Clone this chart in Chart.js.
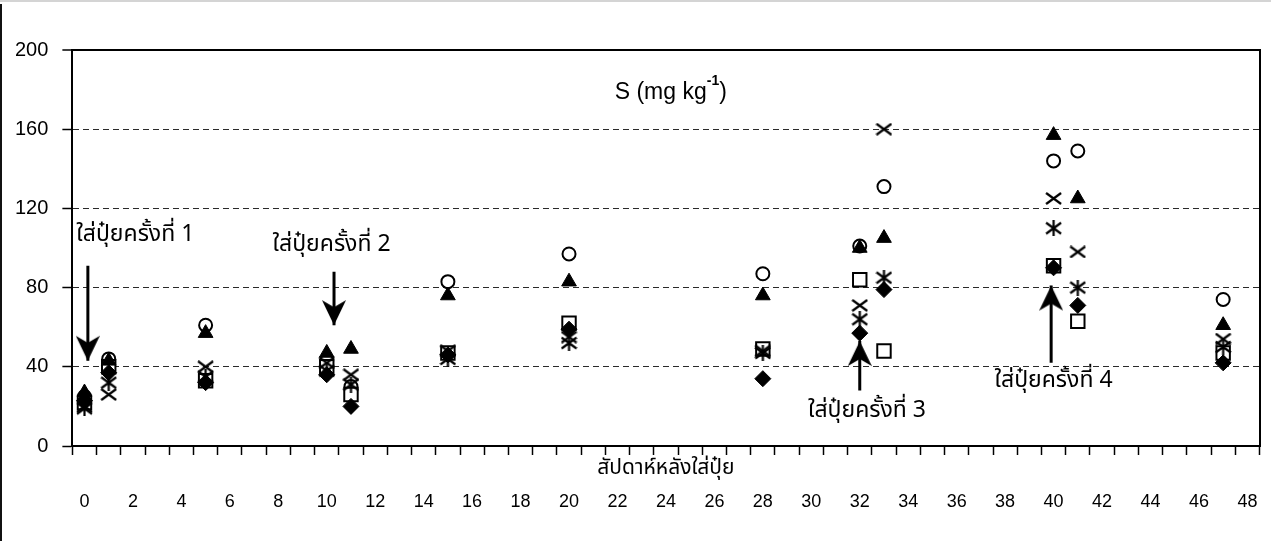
<!DOCTYPE html>
<html>
<head>
<meta charset="utf-8">
<script src="https://cdn.jsdelivr.net/npm/chart.js@4.4.1/dist/chart.umd.min.js"></script>
<style>
  html, body { margin: 0; padding: 0; background: #fff; }
  #wrap { position: relative; width: 1271px; height: 541px; overflow: hidden; }
  #wrap canvas { position: absolute; left: 0; top: 0; }
  #frameTop { position: absolute; left: 0; top: 0; width: 1271px; height: 2px; background: #d4d4d4; }
  #frameLeft { position: absolute; left: 0; top: 4px; width: 2px; height: 537px; background: #111; }
</style>
</head>
<body>
<div id="wrap">
  <canvas id="chart" width="1271" height="541"></canvas>
  <div id="frameTop"></div>
  <div id="frameLeft"></div>
</div>
<script>
// Sampling weeks after fertiliser application
const weeks = [0, 1, 5, 10, 11, 15, 20, 28, 32, 33, 40, 41, 47];

// Sulphur (mg/kg), one array per treatment marker
const circleVals   = [25, 44, 61, 43, 30, 83, 97, 87, 101, 131, 144, 149, 74];
const squareVals   = [22, 40, 33, 40, 26, 47, 62, 49, 84, 48, 91, 63, 47];
const triangleVals = [27, 43, 57, 47, 49, 76, 83, 76, 100, 105, 157, 125, 61];
const diamondVals  = [23, 37, 32, 36, 20, 46, 59, 34, 57, 79, 90, 71, 42];
const crossVals    = [20, 26, 40, 42, 36, 48, 55, 48, 71, 160, 125, 98, 54];
const starVals     = [19, 32, 35, 38, 31, 44, 52, 47, 64, 85, 110, 80, 50];

// Axis ticks
const yTicks = [0, 40, 80, 120, 160, 200];
const xTickLabels = ['0', '2', '4', '6', '8', '10', '12', '14', '16', '18', '20', '22', '24',
                     '26', '28', '30', '32', '34', '36', '38', '40', '42', '44', '46', '48'];

// Fertiliser application notes and their arrows
const fertNotes = ['ใส่ปุ๋ยครั้งที่ 1', 'ใส่ปุ๋ยครั้งที่ 2', 'ใส่ปุ๋ยครั้งที่ 3', 'ใส่ปุ๋ยครั้งที่ 4'];
const noteX = [2.1, 10.2, 32.3, 40.0];
const noteY = [106, 101, 17, 32];
const arrowX = [0.14, 10.3, 32.0, 39.9];
const arrowFrom = [91, 88, 28, 42];
const arrowTo = [43, 61, 53, 81];

const headingWeek = 24.2;
const headingValue = 175.5;

const thaiFont = '"Noto Sans Thai", "Noto Sans Thai UI", Loma, Garuda, Tahoma, "Liberation Sans", sans-serif';
const latinFont = '"Liberation Sans", Arial, sans-serif';

// tick marks sit between the week slots
const tickMarks = [];
for (let v = -0.5; v <= 48.5; v += 1) tickMarks.push(v);

function makeMark(w, h, draw) {
  const c = document.createElement('canvas');
  c.width = w; c.height = h;
  const g = c.getContext('2d');
  g.strokeStyle = '#000';
  g.fillStyle = '#000';
  g.lineWidth = 2.2;
  draw(g, w, h);
  return c;
}

const crossMark = makeMark(17, 13, (g, w, h) => {
  g.beginPath();
  g.moveTo(1, 1); g.lineTo(w - 1, h - 1);
  g.moveTo(w - 1, 1); g.lineTo(1, h - 1);
  g.stroke();
});

const starMark = makeMark(17, 16, (g, w, h) => {
  g.beginPath();
  g.moveTo(w / 2, 0); g.lineTo(w / 2, h);
  g.moveTo(1, 2.5); g.lineTo(w - 1, h - 2.5);
  g.moveTo(w - 1, 2.5); g.lineTo(1, h - 2.5);
  g.stroke();
});

// arrow head pointing up, tip at the canvas centre
const arrowHead = makeMark(24, 52, (g, w, h) => {
  g.beginPath();
  g.moveTo(w / 2, h / 2);
  g.lineTo(w, h - 1);
  g.lineTo(w / 2, h - 8);
  g.lineTo(0, h - 1);
  g.closePath();
  g.fill();
});

function pts(vals) {
  return weeks.map((w, i) => ({ x: w, y: vals[i] }));
}

const markerSets = [
  { label: 'star', data: pts(starVals), pointStyle: starMark, pointRadius: 7, backgroundColor: '#000', borderColor: '#000' },
  { label: 'cross', data: pts(crossVals), pointStyle: crossMark, pointRadius: 7, backgroundColor: '#000', borderColor: '#000' },
  { label: 'diamond', data: pts(diamondVals), pointStyle: 'rectRot', pointRadius: 8, backgroundColor: '#000', borderColor: '#000', borderWidth: 1 },
  { label: 'triangle', data: pts(triangleVals), pointStyle: 'triangle', pointRadius: 8.5, backgroundColor: '#000', borderColor: '#000', borderWidth: 1 },
  { label: 'square', data: pts(squareVals), pointStyle: 'rect', pointRadius: 9.5, backgroundColor: '#fff', borderColor: '#000', borderWidth: 2 },
  { label: 'circle', data: pts(circleVals), pointStyle: 'circle', pointRadius: 6.5, backgroundColor: '#fff', borderColor: '#000', borderWidth: 2 }
].map(d => Object.assign({ type: 'scatter', pointHoverRadius: d.pointRadius }, d));

const arrowSets = arrowX.map((ax, i) => ({
  type: 'scatter',
  label: 'arrow' + (i + 1),
  data: [{ x: ax, y: arrowFrom[i] }, { x: ax, y: arrowTo[i] }],
  showLine: true,
  borderColor: '#000',
  backgroundColor: '#000',
  borderWidth: 3,
  pointStyle: ['circle', arrowHead],
  pointRadius: [0, 6],
  pointRotation: [0, arrowTo[i] < arrowFrom[i] ? 180 : 0]
}));

const notesPlugin = {
  id: 'notes',
  afterDatasetsDraw(chart) {
    const { ctx, scales: { x, y } } = chart;
    ctx.save();
    ctx.fillStyle = '#000';
    ctx.textAlign = 'center';
    ctx.textBaseline = 'middle';
    ctx.font = '23px ' + thaiFont;
    fertNotes.forEach((t, i) => {
      ctx.fillText(t, x.getPixelForValue(noteX[i]), y.getPixelForValue(noteY[i]));
    });

    // heading S (mg kg^-1)
    const main1 = 'S (mg kg', sup = '-1', main2 = ')';
    const mainFont = '23px ' + latinFont;
    const supFont = 'bold 14px ' + latinFont;
    ctx.font = mainFont;
    const w1 = ctx.measureText(main1).width;
    const w3 = ctx.measureText(main2).width;
    ctx.font = supFont;
    const w2 = ctx.measureText(sup).width;
    const total = w1 + w2 + w3;
    let px = x.getPixelForValue(headingWeek) - total / 2;
    const base = y.getPixelForValue(headingValue);
    ctx.textAlign = 'left';
    ctx.textBaseline = 'alphabetic';
    ctx.font = mainFont;
    ctx.fillText(main1, px, base);
    px += w1;
    ctx.font = supFont;
    ctx.fillText(sup, px, base - 14);
    px += w2;
    ctx.font = mainFont;
    ctx.fillText(main2, px, base);
    ctx.restore();
  }
};

new Chart(document.getElementById('chart'), {
  type: 'scatter',
  data: { datasets: [...markerSets, ...arrowSets] },
  options: {
    responsive: false,
    animation: false,
    devicePixelRatio: 1,
    layout: { padding: { left: 1, right: 8, top: 50, bottom: 19.6 } },
    plugins: { legend: { display: false }, tooltip: { enabled: false }, title: { display: false } },
    scales: {
      x: {
        type: 'linear', position: 'bottom', min: -0.5, max: 48.5, weight: 0,
        afterBuildTicks: s => { s.ticks = tickMarks.map(v => ({ value: v })); },
        ticks: { display: false },
        grid: { display: true, drawOnChartArea: false, drawTicks: true, tickLength: 9, tickColor: '#000', tickWidth: 1.5, color: '#000' },
        border: { display: true, color: '#000', width: 2 },
        title: { display: true, text: 'สัปดาห์หลังใส่ปุ๋ย', color: '#000', font: { family: thaiFont, size: 21 }, padding: { top: 2.4, bottom: 0 } }
      },
      x2: {
        type: 'linear', position: 'bottom', min: -0.5, max: 48.5, weight: 1,
        afterBuildTicks: s => { s.ticks = xTickLabels.map(t => ({ value: Number(t) })); },
        ticks: { display: true, color: '#000', font: { family: latinFont, size: 18 }, padding: 8.6, maxRotation: 0, autoSkip: false, callback: v => String(v) },
        grid: { display: false, drawTicks: false },
        border: { display: false }
      },
      y: {
        type: 'linear', position: 'left', min: 0, max: 200,
        afterBuildTicks: s => { s.ticks = yTicks.map(v => ({ value: v })); },
        ticks: { color: '#000', font: { family: latinFont, size: 20 }, padding: 14 },
        grid: {
          color: c => (c.tick && c.tick.value === 200) ? '#000' : '#2a2a2a',
          lineWidth: c => (c.tick && c.tick.value === 200) ? 2 : 1,
          tickLength: 10, tickColor: '#000', tickWidth: 1.5
        },
        border: { display: true, color: '#000', width: 2, dash: c => (c.tick && c.tick.value !== 200) ? [6, 4] : [] }
      },
      yR: {
        type: 'linear', position: 'right', min: 0, max: 200,
        ticks: { display: false },
        grid: { display: false, drawTicks: false },
        border: { display: true, color: '#000', width: 2 }
      }
    }
  },
  plugins: [notesPlugin]
});
</script>
</body>
</html>
